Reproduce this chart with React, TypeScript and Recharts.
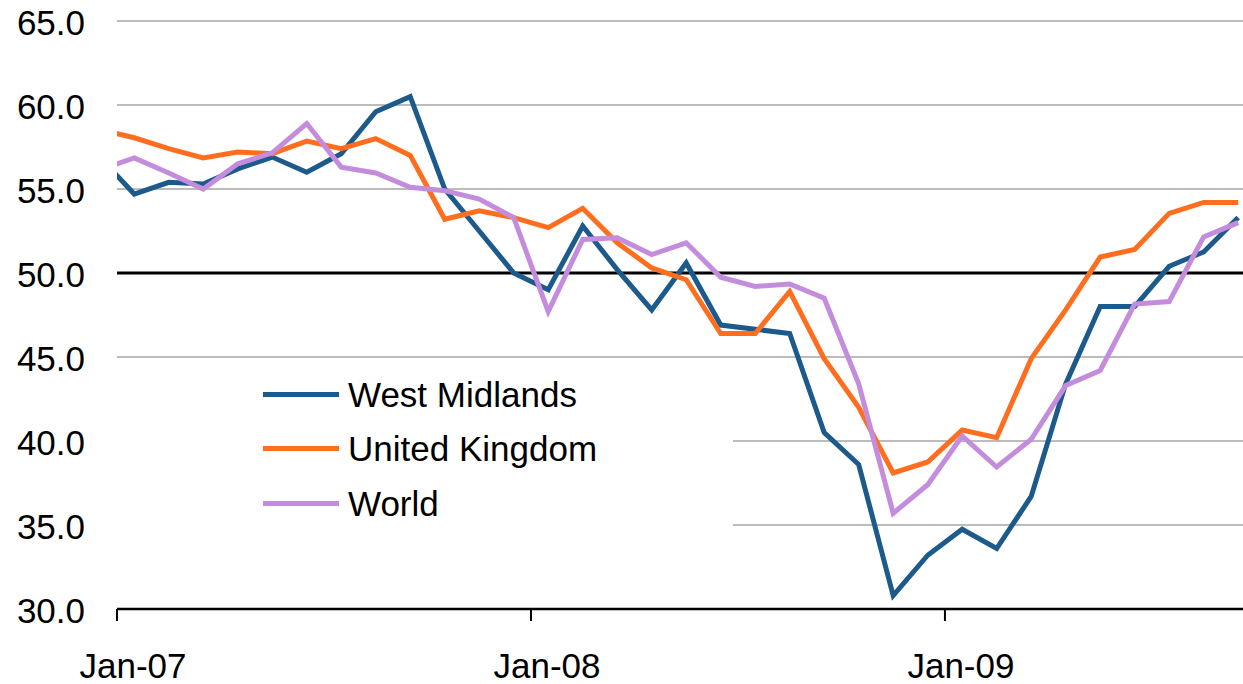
import React from 'react';
import { LineChart, Line, XAxis, YAxis, CartesianGrid, ReferenceLine, Legend } from 'recharts';

// Monthly categories: Dec-06 (partly outside the axis) through Sep-09
const categories = [
  'Dec-06',
  'Jan-07', 'Feb-07', 'Mar-07', 'Apr-07', 'May-07', 'Jun-07', 'Jul-07', 'Aug-07', 'Sep-07', 'Oct-07', 'Nov-07', 'Dec-07',
  'Jan-08', 'Feb-08', 'Mar-08', 'Apr-08', 'May-08', 'Jun-08', 'Jul-08', 'Aug-08', 'Sep-08', 'Oct-08', 'Nov-08', 'Dec-08',
  'Jan-09', 'Feb-09', 'Mar-09', 'Apr-09', 'May-09', 'Jun-09', 'Jul-09', 'Aug-09', 'Sep-09',
];

const westMidlands = [
  56.9,
  54.7, 55.4, 55.3, 56.2, 56.9, 56.0, 57.1, 59.6, 60.5, 55.0, 52.5, 50.0,
  49.0, 52.8, 50.2, 47.8, 50.6, 46.9, 46.65, 46.4, 40.5, 38.6, 30.8, 33.2,
  34.75, 33.6, 36.7, 43.4, 48.0, 48.0, 50.4, 51.25, 53.3,
];

const unitedKingdom = [
  58.55,
  58.05, 57.4, 56.85, 57.2, 57.1, 57.85, 57.4, 58.0, 57.0, 53.2, 53.7, 53.3,
  52.7, 53.85, 51.8, 50.3, 49.6, 46.4, 46.4, 48.9, 44.9, 42.0, 38.1, 38.75,
  40.65, 40.2, 44.9, 47.8, 50.95, 51.4, 53.55, 54.2, 54.2,
];

const world = [
  56.15,
  56.85, 55.95, 55.0, 56.5, 57.15, 58.9, 56.3, 55.95, 55.1, 54.9, 54.4, 53.3,
  47.7, 52.0, 52.1, 51.1, 51.8, 49.75, 49.2, 49.35, 48.5, 43.4, 35.7, 37.4,
  40.3, 38.45, 40.1, 43.3, 44.2, 48.15, 48.3, 52.15, 53.0,
];

const tickLabels = ['Jan-07', 'Jan-08', 'Jan-09'];
const tickMonths = [0, 12, 24];
const yTicks = [30, 35, 40, 45, 50, 55, 60, 65];

const series = [
  { key: 'wm', name: 'West Midlands', color: '#1B5A8A', values: westMidlands },
  { key: 'uk', name: 'United Kingdom', color: '#FF6E1F', values: unitedKingdom },
  { key: 'world', name: 'World', color: '#C48CDC', values: world },
];

const data = categories.map((label, i) => {
  const row: Record<string, any> = { m: i - 1, label };
  series.forEach((s) => {
    row[s.key] = s.values[i];
  });
  return row;
});

// tick marks sit on category boundaries (half a month before the January point)
const xTicks = tickMonths.map((m) => m - 0.5);

const FONT = '"Liberation Sans", Arial, sans-serif';

const XTick = (props: any) => {
  const { x, y, payload } = props;
  const idx = xTicks.indexOf(payload.value);
  return (
    <text x={x + 16} y={y} dy={26} textAnchor="middle" fontSize={35} fontFamily={FONT} fill="#000">
      {idx >= 0 ? tickLabels[idx] : ''}
    </text>
  );
};

const YTick = (props: any) => {
  const { x, y, payload } = props;
  return (
    <text x={x} y={y} dy={14} textAnchor="end" fontSize={35} fontFamily={FONT} fill="#000">
      {Number(payload.value).toFixed(1)}
    </text>
  );
};

const LegendBox = () => (
  <div style={{ background: '#fff', width: '100%', height: '100%', fontFamily: FONT }}>
    {series.map((s) => (
      <div key={s.key} style={{ display: 'flex', alignItems: 'center', height: 54.5 }}>
        <div style={{ marginLeft: 146, width: 76, height: 5, background: s.color }} />
        <span style={{ marginLeft: 9, fontSize: 35, color: '#000', lineHeight: 1 }}>{s.name}</span>
      </div>
    ))}
  </div>
);

export default function App() {
  return (
    <div style={{ position: 'absolute', left: 0, top: 0, background: '#fff' }}>
      <LineChart width={1243} height={684} data={data} margin={{ top: 21, right: 0, bottom: 15, left: 0 }}>
        <CartesianGrid vertical={false} stroke="#a6a6a6" strokeWidth={1.5} />
        <XAxis
          type="number"
          dataKey="m"
          domain={[-0.5, 32.14]}
          allowDataOverflow
          ticks={xTicks}
          interval={0}
          height={60}
          tickSize={12}
          tickMargin={31}
          axisLine={{ stroke: '#000', strokeWidth: 2.5 }}
          tickLine={{ stroke: '#000', strokeWidth: 2 }}
          tick={<XTick />}
        />
        <YAxis
          type="number"
          domain={[30, 65]}
          ticks={yTicks}
          interval={0}
          width={117}
          axisLine={false}
          tickLine={false}
          tickSize={0}
          tickMargin={32}
          tick={<YTick />}
        />
        <ReferenceLine y={50} stroke="#000" strokeWidth={3} />
        {series.map((s) => (
          <Line
            key={s.key}
            type="linear"
            dataKey={s.key}
            name={s.name}
            stroke={s.color}
            strokeWidth={5}
            dot={false}
            activeDot={false}
            isAnimationActive={false}
          />
        ))}
        <Legend
          layout="vertical"
          align="center"
          verticalAlign="middle"
          content={<LegendBox />}
          wrapperStyle={{ left: 117, top: 367, width: 616, height: 170 }}
        />
      </LineChart>
    </div>
  );
}
